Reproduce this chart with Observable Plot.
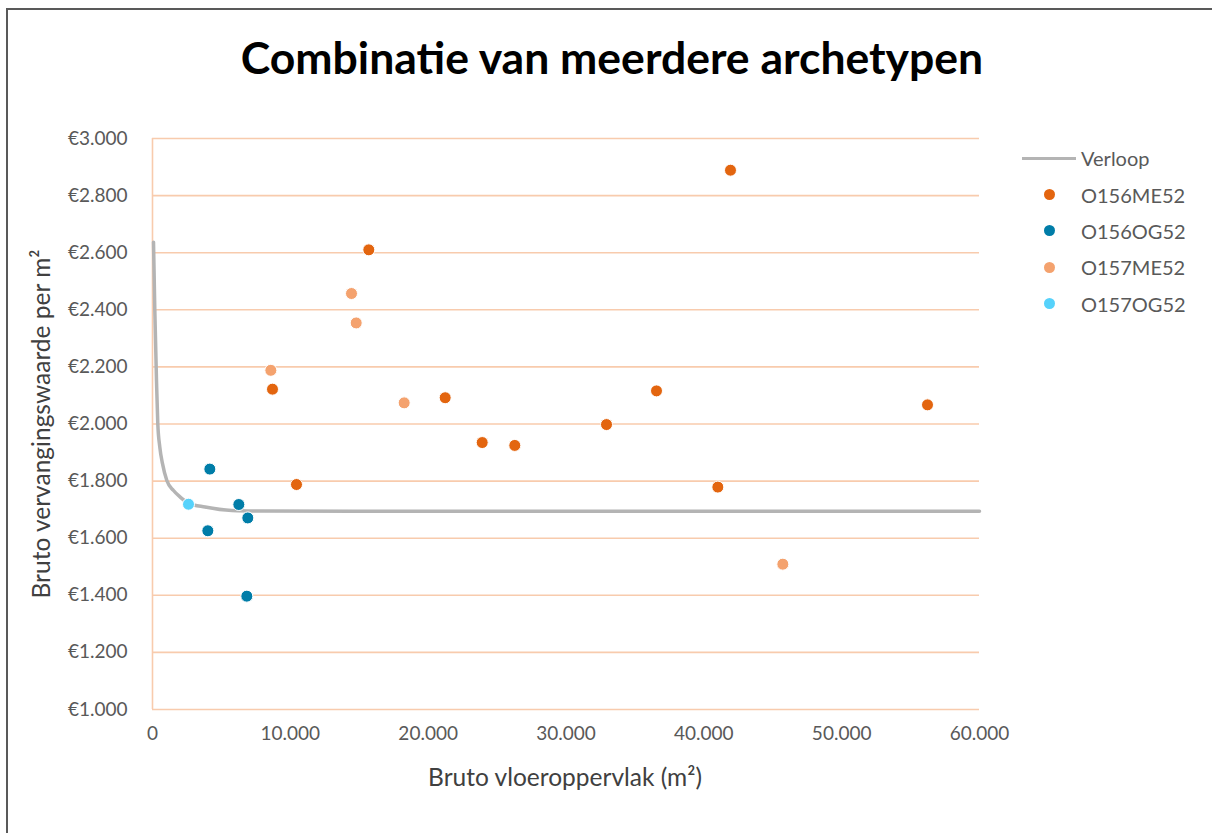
<!DOCTYPE html>
<html>
<head>
<meta charset="utf-8">
<script src="https://cdn.jsdelivr.net/npm/d3@7"></script>
<script src="https://cdn.jsdelivr.net/npm/@observablehq/plot@0.6"></script>
<style>
  html, body { margin: 0; padding: 0; background: #ffffff; }
  #wrap { position: relative; width: 1212px; height: 833px; overflow: hidden; background: #ffffff; font-family: Lato, "Open Sans", sans-serif; }
  #frame { position: absolute; left: 6px; top: 8px; width: 1400px; height: 1000px; border-left: 2px solid #595959; border-top: 2px solid #595959; }
  #chart { position: absolute; left: 0; top: 0; }
  #title { position: absolute; left: 8px; width: 1208px; top: 35px; text-align: center; font-weight: bold; font-size: 44.5px; color: #000; line-height: 1; }
  #ytitle { position: absolute; left: 40px; top: 424px; transform: translate(-50%, -50%) rotate(-90deg); white-space: nowrap; font-size: 24.5px; color: #404040; }
  #xtitle { position: absolute; left: 565px; top: 776px; transform: translate(-50%, -50%); white-space: nowrap; font-size: 24.5px; color: #404040; }
  #legend { position: absolute; left: 1022px; top: 140px; }
  .item { position: relative; height: 36.4px; display: flex; align-items: center; font-size: 20px; color: #595959; }
  .sym { width: 54px; height: 24px; position: relative; margin-right: 5px; }
  .line { position: absolute; left: 0; top: 10.5px; width: 54px; height: 3px; }
  .dot { position: absolute; left: 21.5px; top: 6.5px; width: 11px; height: 11px; border-radius: 50%; }
</style>
</head>
<body>
<div id="wrap">
  <div id="frame"></div>
  <div id="chart"></div>
  <div id="title">Combinatie van meerdere archetypen</div>
  <div id="ytitle">Bruto vervangingswaarde per m²</div>
  <div id="xtitle">Bruto vloeroppervlak (m²)</div>
  <div id="legend"></div>
</div>
<script>
// ---- Data ----
const seriesNames = ["O156ME52", "O156OG52", "O157ME52", "O157OG52"];
const seriesColors = ["#E3650F", "#007DA8", "#F4A26E", "#56D2FB"];

const o156me52X = [15693, 8706, 10447, 21234, 23920, 26285, 32939, 36566, 41016, 41934, 56228];
const o156me52Y = [2610, 2122, 1788, 2092, 1935, 1925, 1998, 2116, 1779, 2889, 2067];

const o156og52X = [4160, 6263, 6915, 4015, 6843];
const o156og52Y = [1842, 1718, 1671, 1626, 1397];

const o157me52X = [14437, 14778, 8585, 18260, 45731];
const o157me52Y = [2457, 2354, 2188, 2074, 1509];

const o157og52X = [2612];
const o157og52Y = [1719];

const verloopName = "Verloop";
const verloopColor = "#B4B4B4";
const verloopX = [73, 167, 290, 385, 530, 726, 1040, 1524, 2010, 2612, 3823, 5753, 8000, 15000, 60000];
const verloopY = [2637, 2400, 2152, 2000, 1919, 1861, 1802, 1767, 1744, 1723, 1709, 1697, 1695, 1694, 1694];

const xTicks = [0, 10000, 20000, 30000, 40000, 50000, 60000];
const yTicks = [1000, 1200, 1400, 1600, 1800, 2000, 2200, 2400, 2600, 2800, 3000];

// ---- Build tables ----
const seriesX = [o156me52X, o156og52X, o157me52X, o157og52X];
const seriesY = [o156me52Y, o156og52Y, o157me52Y, o157og52Y];
const points = [];
seriesNames.forEach((name, i) => {
  seriesX[i].forEach((x, j) => points.push({series: name, x, y: seriesY[i][j]}));
});
const verloop = verloopX.map((x, i) => ({x, y: verloopY[i]}));

const nl = d3.formatLocale({decimal: ",", thousands: ".", grouping: [3], currency: ["€", ""]});
const fmtNum = nl.format(",.0f");

const gridColor = "#F8CBAD";

const chart = Plot.plot({
  width: 1212,
  height: 833,
  marginLeft: 152,
  marginRight: 233,
  marginTop: 138,
  marginBottom: 124,
  style: {fontFamily: "Lato, 'Open Sans', sans-serif", fontSize: "19px", color: "#595959", background: "transparent"},
  x: {domain: [0, 60000]},
  y: {domain: [1000, 3000]},
  color: {domain: seriesNames, range: seriesColors},
  marks: [
    Plot.ruleY(yTicks, {stroke: gridColor, strokeWidth: 1.6}),
    Plot.ruleX([0], {stroke: gridColor, strokeWidth: 1.6}),
    Plot.line(verloop, {x: "x", y: "y", stroke: verloopColor, strokeWidth: 3.5, curve: "monotone-x"}),
    Plot.dot(points, {x: "x", y: "y", fill: "series", r: 6, stroke: "#ffffff", strokeWidth: 1}),
    Plot.axisX(xTicks, {tickSize: 0, tickPadding: 17, tickFormat: d => fmtNum(d), label: null, fill: "#595959"}),
    Plot.axisY(yTicks, {tickSize: 0, tickPadding: 25, tickFormat: d => "€" + fmtNum(d), label: null, fill: "#595959"})
  ]
});
document.getElementById("chart").appendChild(chart);

// ---- Legend ----
const legend = document.getElementById("legend");
{
  const item = document.createElement("div");
  item.className = "item";
  item.innerHTML = `<div class="sym"><div class="line" style="background:${verloopColor}"></div></div><span>${verloopName}</span>`;
  legend.appendChild(item);
}
seriesNames.forEach((name, i) => {
  const item = document.createElement("div");
  item.className = "item";
  item.innerHTML = `<div class="sym"><div class="dot" style="background:${seriesColors[i]}"></div></div><span>${name}</span>`;
  legend.appendChild(item);
});
</script>
</body>
</html>
